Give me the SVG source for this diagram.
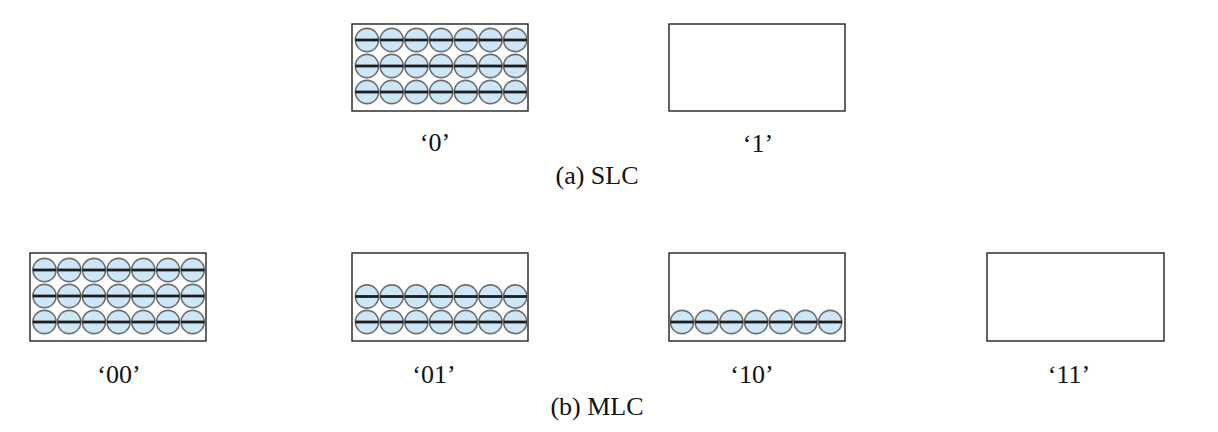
<svg xmlns="http://www.w3.org/2000/svg" xmlns:xlink="http://www.w3.org/1999/xlink" width="1218" height="432" viewBox="0 0 1218 432">
<style>
.box{fill:#fff;stroke:#222;stroke-width:1.4}
.lbl{font-family:"Liberation Serif","Times New Roman",serif;font-size:26px;fill:#111;text-anchor:middle}
</style>
<defs>
<g id="e">
<circle r="11.6" fill="#cde6f8" stroke="#6e6e6e" stroke-width="1.6"/>
<line x1="-11.6" y1="0" x2="11.6" y2="0" stroke="#1e1e1e" stroke-width="2.8"/>
</g>
<g id="row">
<use xlink:href="#e" x="0"/>
<use xlink:href="#e" x="24.7"/>
<use xlink:href="#e" x="49.4"/>
<use xlink:href="#e" x="74.1"/>
<use xlink:href="#e" x="98.8"/>
<use xlink:href="#e" x="123.5"/>
<use xlink:href="#e" x="148.2"/>
</g>
</defs>
<rect width="1218" height="432" fill="#fff"/>
<g id="slc0">
<rect class="box" x="352" y="24" width="176" height="87"/>
<use xlink:href="#row" x="367" y="40"/>
<use xlink:href="#row" x="367" y="66"/>
<use xlink:href="#row" x="367" y="92"/>
<text class="lbl" x="435" y="151">‘0’</text>
</g>
<g id="slc1">
<rect class="box" x="669" y="24" width="176" height="87"/>
<text class="lbl" x="758" y="152">‘1’</text>
</g>
<text id="caption-a" class="lbl" x="597" y="184">(a) SLC</text>
<g id="mlc00">
<rect class="box" x="30" y="253" width="176" height="88"/>
<use xlink:href="#row" x="44.5" y="270"/>
<use xlink:href="#row" x="44.5" y="296"/>
<use xlink:href="#row" x="44.5" y="322"/>
<text class="lbl" x="119" y="383">‘00’</text>
</g>
<g id="mlc01">
<rect class="box" x="352" y="253" width="176" height="88"/>
<use xlink:href="#row" x="367" y="296.5"/>
<use xlink:href="#row" x="367" y="322"/>
<text class="lbl" x="434" y="383">‘01’</text>
</g>
<g id="mlc10">
<rect class="box" x="669" y="253" width="176" height="88"/>
<use xlink:href="#row" x="682" y="322"/>
<text class="lbl" x="752" y="383">‘10’</text>
</g>
<g id="mlc11">
<rect class="box" x="987" y="253" width="177" height="88"/>
<text class="lbl" x="1069" y="383">‘11’</text>
</g>
<text id="caption-b" class="lbl" x="597" y="415">(b) MLC</text>
</svg>
